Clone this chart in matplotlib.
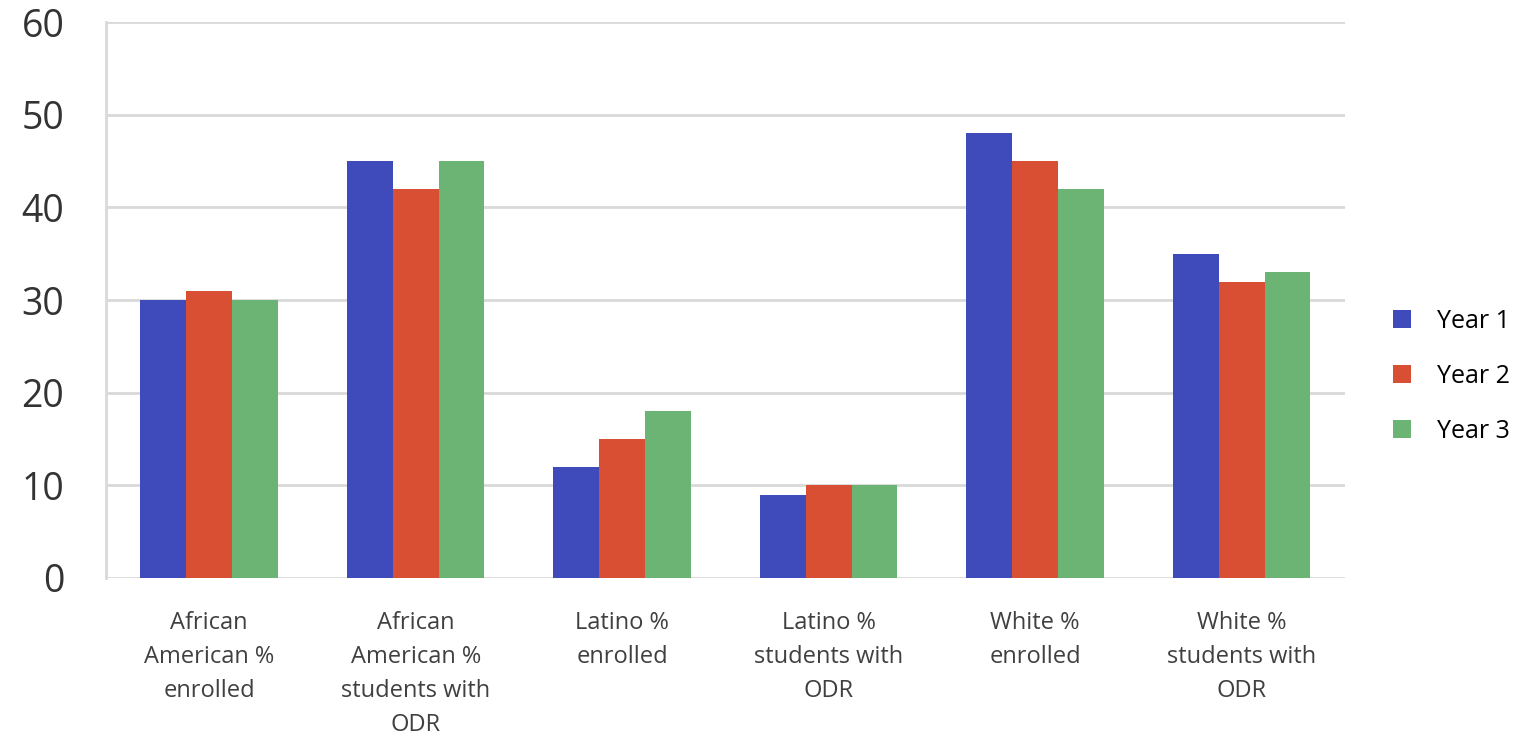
import matplotlib.pyplot as plt
import numpy as np

categories = ['African\nAmerican %\nenrolled', 'African\nAmerican %\nstudents with\nODR',
              'Latino %\nenrolled', 'Latino %\nstudents with\nODR',
              'White %\nenrolled', 'White %\nstudents with\nODR']
year1 = [30, 45, 12, 9, 48, 35]
year2 = [31, 42, 15, 10, 45, 32]
year3 = [30, 45, 18, 10, 42, 33]
series_names = ['Year 1', 'Year 2', 'Year 3']
colors = ['#3f4bba', '#d94f33', '#6bb473']

plt.rcParams['font.family'] = ['Open Sans', 'DejaVu Sans']

fig = plt.figure(figsize=(15.22, 7.41), dpi=100)
ax = fig.add_axes([0.0696, 0.22, 0.814, 0.75])

x = np.arange(len(categories))
width = 0.222
for i, (vals, name, c) in enumerate(zip([year1, year2, year3], series_names, colors)):
    ax.bar(x + (i - 1) * width, vals, width, color=c, label=name, zorder=3)

ax.set_xlim(-0.5, len(categories) - 0.5)
ax.set_ylim(0, 60)
ax.set_yticks(range(0, 61, 10))
ax.grid(axis='y', color='#d9d9d9', linewidth=2, zorder=0)
for s in ['top', 'right', 'bottom']:
    ax.spines[s].set_visible(False)
ax.spines['left'].set_color('#d9d9d9')
ax.spines['left'].set_linewidth(2)
ax.set_xticks(x)
ax.set_xticklabels(categories, fontsize=17, color='#404040', linespacing=1.55, va='top')
ax.tick_params(axis='x', length=0, pad=24)
ax.tick_params(axis='y', length=0, labelsize=27, labelcolor='#333333', pad=30)

ax.legend(loc='center left', bbox_to_anchor=(1.039, 0.363), frameon=False, fontsize=18,
          borderaxespad=0, borderpad=0,
          handlelength=0.72, handleheight=0.72, handletextpad=1.05, labelspacing=1.2)

fig.savefig('out.png', dpi=100)
